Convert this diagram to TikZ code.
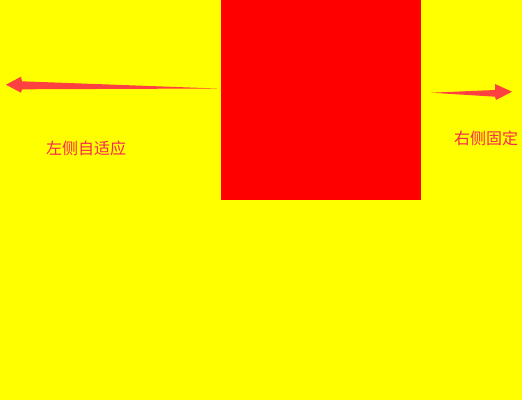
\documentclass[tikz,border=0pt]{standalone}
\usepackage{fontspec}
\newfontfamily\cjk{Noto Sans CJK SC}
\usetikzlibrary{positioning}
\definecolor{bgyellow}{RGB}{255,255,0}
\definecolor{boxred}{RGB}{255,0,0}
\definecolor{arrowred}{RGB}{255,64,64}
\definecolor{textred}{RGB}{250,40,80}
\tikzset{
  sidelabel/.style={text=textred, font=\cjk\fontsize{16}{16}\selectfont, inner sep=0pt},
  fatarrow/.style={fill=arrowred}
}

\begin{document}
\begin{tikzpicture}[x=1pt,y=-1pt]
    \fill[bgyellow] (0,0) rectangle (522,400);
    \node[fill=boxred, minimum width=200pt, minimum height=200pt, inner sep=0pt, anchor=north west] (box) at (221,0) {};

    \coordinate (lt) at (217,88.5);
    \coordinate (lh) at (6,84.7);
    \coordinate (rt) at (431,92.7);
    \coordinate (rh) at (512,91.7);

    \fill[fatarrow] (lt) -- (22,89.3) -- (21,92.7) -- (lh) -- (21,76.7) -- (22,81.3) -- cycle;
    \fill[fatarrow] (rt) -- (495,90) -- (495,84) -- (rh) -- (496,100) -- (495,96.7) -- cycle;

    \node[sidelabel] (ltext) at (86,148.7) {左侧自适应};
    \node[sidelabel] (rtext) at (486,138.7) {右侧固定};
\end{tikzpicture}
\end{document}
